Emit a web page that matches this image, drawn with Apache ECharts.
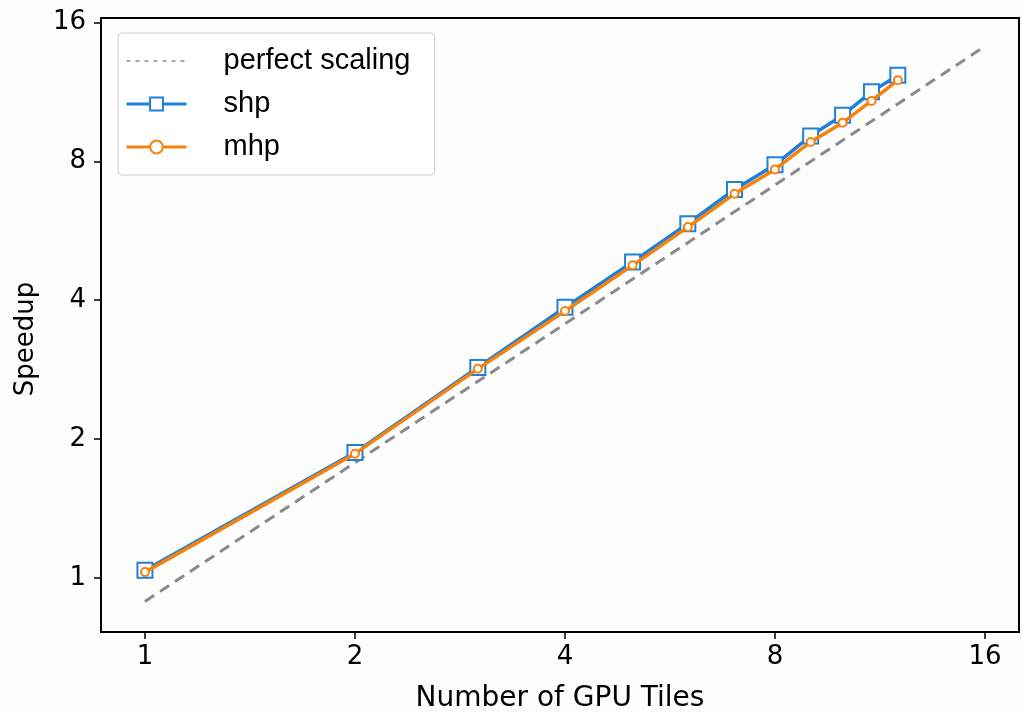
<!DOCTYPE html>
<html>
<head>
<meta charset="utf-8">
<script src="https://cdn.jsdelivr.net/npm/echarts@6/dist/echarts.min.js"></script>
<style>
  html, body { margin: 0; padding: 0; background: #fdfdfd; }
  #chart { width: 1022px; height: 713px; }
</style>
</head>
<body>
<div id="chart"></div>
<script>
// ---- data ----
const tiles = [1, 2, 3, 4, 5, 6, 7, 8, 9, 10, 11, 12];
const shpSpeedup = [1.04, 1.87, 2.86, 3.86, 4.84, 5.86, 6.95, 7.86, 9.08, 10.06, 11.31, 12.29];
const mhpSpeedup = [1.03, 1.86, 2.84, 3.79, 4.76, 5.76, 6.80, 7.68, 8.81, 9.70, 10.81, 11.99];
const perfectX = [1, 16];
const perfectY = [0.89, 14.2];
const tickValues = [1, 2, 4, 8, 16];
const xRange = [0.865, 17.9];
const yRange = [0.764, 16.35];

const pairs = (xs, ys) => xs.map((x, i) => [x, ys[i]]);

const chart = echarts.init(document.getElementById('chart'), null, { renderer: 'canvas' });
const tickFont = { fontFamily: 'DejaVu Sans', fontSize: 26, color: '#000' };

chart.setOption({
  backgroundColor: '#fdfdfd',
  animation: false,
  grid: {
    left: 101, top: 18, right: 3, bottom: 81,
    outerBoundsMode: 'none', containLabel: false,
    show: true, borderColor: '#000', borderWidth: 2, backgroundColor: 'transparent'
  },
  legend: {
    orient: 'vertical',
    left: 118, top: 33,
    backgroundColor: '#fff',
    borderColor: '#cccccc', borderWidth: 1, borderRadius: 4,
    padding: [13, 24, 13, 7],
    itemWidth: 60, itemHeight: 16, itemGap: 13,
    textStyle: { fontFamily: 'Liberation Sans', fontSize: 29, color: '#000', lineHeight: 30, padding: [0, 0, 0, 32] },
    data: [
      { name: 'perfect scaling', lineStyle: { width: 1.2, type: [4, 5], color: '#555' }, itemStyle: { opacity: 0 } },
      { name: 'shp', lineStyle: { width: 3 } },
      { name: 'mhp', lineStyle: { width: 3 } }
    ]
  },
  xAxis: {
    type: 'log', logBase: 2,
    min: xRange[0], max: xRange[1],
    name: 'Number of GPU Tiles', nameLocation: 'middle', nameGap: 53,
    nameTextStyle: { fontFamily: 'DejaVu Sans', fontSize: 28, color: '#000' },
    axisLine: { show: true, lineStyle: { color: '#000', width: 2 } },
    axisTick: { show: true, length: 7, lineStyle: { color: '#000', width: 1.5 }, customValues: tickValues },
    axisLabel: Object.assign({ margin: 12, customValues: tickValues, formatter: v => String(Math.round(v)) }, tickFont),
    minorTick: { show: false },
    splitLine: { show: false }
  },
  yAxis: {
    type: 'log', logBase: 2,
    min: yRange[0], max: yRange[1],
    name: 'Speedup', nameLocation: 'middle', nameGap: 62, nameRotate: 90,
    nameTextStyle: { fontFamily: 'DejaVu Sans', fontSize: 26, color: '#000', padding: [0, 28, 0, 0] },
    axisLine: { show: true, lineStyle: { color: '#000', width: 2 } },
    axisTick: { show: true, length: 7, lineStyle: { color: '#000', width: 1.5 }, customValues: tickValues },
    axisLabel: Object.assign({ margin: 15, customValues: tickValues, formatter: v => String(Math.round(v)) }, tickFont),
    minorTick: { show: false },
    splitLine: { show: false }
  },
  series: [
    {
      name: 'perfect scaling', type: 'line',
      data: pairs(perfectX, perfectY),
      symbol: 'none',
      lineStyle: { color: '#8a8a8a', width: 3, type: [11, 7] },
      itemStyle: { color: '#8a8a8a' },
      z: 1
    },
    {
      name: 'shp', type: 'line',
      data: pairs(tiles, shpSpeedup),
      symbol: 'rect', symbolSize: 15,
      lineStyle: { color: '#1f80d8', width: 3.5 },
      itemStyle: { color: '#ffffff', borderColor: '#1f80d8', borderWidth: 2 },
      z: 2
    },
    {
      name: 'mhp', type: 'line',
      data: pairs(tiles, mhpSpeedup),
      symbol: 'circle', symbolSize: 8,
      lineStyle: { color: '#f5820d', width: 3.5 },
      itemStyle: { color: '#ffffff', borderColor: '#f5820d', borderWidth: 2 },
      z: 3
    }
  ]
});
</script>
</body>
</html>
